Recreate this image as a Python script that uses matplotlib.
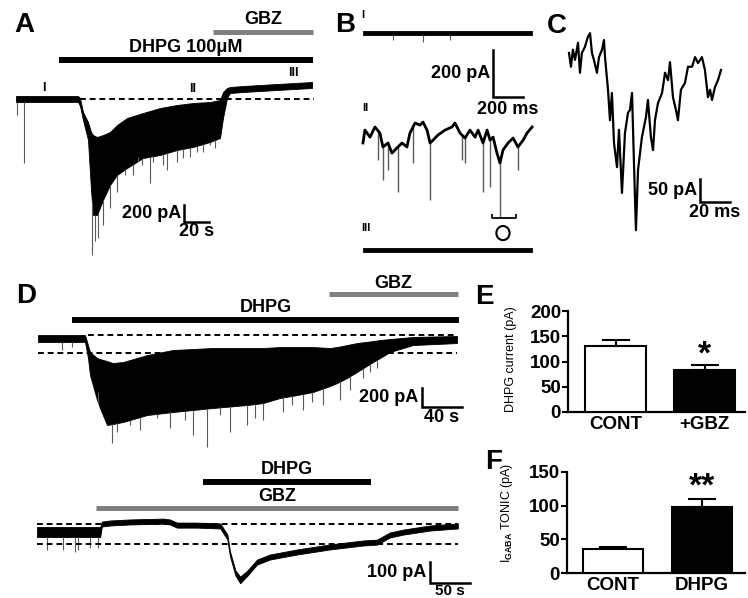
import numpy as np
import matplotlib
matplotlib.use('Agg')
import matplotlib.pyplot as plt
from matplotlib.patches import Ellipse

plt.rcParams['font.family'] = ['Liberation Sans', 'DejaVu Sans']
plt.rcParams['font.weight'] = 'bold'
plt.rcParams['mathtext.fontset'] = 'custom'
plt.rcParams['mathtext.rm'] = 'Liberation Sans:bold'
plt.rcParams['mathtext.bf'] = 'Liberation Sans:bold'

# ---- panel A: DHPG 100uM then GBZ (time s, current pA) ----
a_t = [0, 49.6, 51.2, 53.6, 57.6, 60, 61.6, 64.8, 69.6, 75.2, 80.8, 88.8, 101.6, 115.2,
       128.8, 141.6, 155.2, 163.2, 165.6, 168.8, 171.2, 181.6, 208.8, 236.8]
a_top = [36, 36, 12, -156, -276, -396, -432, -456, -432, -396, -312, -228, -168, -108,
         -72, -48, -36, -12, 84, 132, 144, 156, 180, 204]
a_bot = [-36, -36, -84, -252, -492, -1092, -1392, -1392, -1212, -1032, -912, -828, -708, -672,
         -612, -576, -516, -468, -228, 12, 72, 84, 108, 132]
a_spk_t = [0.8, 6.4, 60.8, 63, 65.6, 69.6, 75.2, 80.8, 84.8, 87.2, 93.6, 97.6, 100.8, 107.2,
           109.6, 117.6, 120.8, 128.8, 133.6, 139.2, 144.8, 149.6, 155.2, 159.2]
a_spk_i = [-192, -768, -1872, -1700, -1668, -1512, -1308, -1116, -876, -912, -912, -696, -792, -1008,
           -756, -792, -852, -756, -708, -696, -636, -636, -552, -588]

# ---- panel B: expanded sweeps I, II, III (ms, pA) ----
b1_t = [0, 1127]
b1_top = [10, 10]
b1_bot = [-9, -9]
b1_spk_t = [200, 400, 580]
b1_spk_i = [-30, -38, -30]
b2_t = [0, 13, 47, 80, 113, 133, 167, 193, 233, 260, 293, 313, 347, 380, 400, 427, 447, 467, 500, 547,
        593, 613, 647, 680, 713, 747, 767, 800, 827, 847, 867, 893, 913, 933, 967, 1000, 1033, 1067,
        1093, 1127]
b2_i = [-55, 0, -30, 13, -13, -72, -55, -98, -72, -55, -72, -13, 30, 21, 34, 0, -55, -43, -21, 0,
        13, 30, -13, -34, 0, -30, 0, -55, 0, -43, -30, -98, -140, -85, -55, -34, -72, -43, -13, 13]
b2_spk_t = [100, 133, 167, 233, 333, 447, 660, 680, 800, 847, 913, 1033]
b2_spk_i = [-128, -213, -170, -264, -140, -298, -128, -140, -264, -243, -370, -170]
b3_t = [0, 1127]
b3_top = [10, 10]
b3_bot = [-9, -9]

# ---- panel C: single event (ms, pA) ----
c_t = [0.7, 2, 3.3, 4.7, 6.7, 8, 9.3, 11.3, 13.3, 14.7, 16, 17.3, 19.3, 20.7, 22.7, 24, 24.7, 26.7,
       28, 29.3, 30.7, 32.7, 34, 36, 38, 40, 41.3, 42.7, 44, 45.3, 46.7, 49.3, 52, 53.3, 55.3, 56.7,
       58, 60, 62.7, 64.7, 66.7, 68, 70, 72, 73.3, 75.3, 78, 80, 82.7, 84.7, 86.7, 89.3, 91.3, 93.3,
       94.7, 96, 98, 100, 102]
c_i = [0, -30, 7, -15, 22, -43, 0, 13, 35, 43, 0, -15, -43, -9, 7, 28, -9, -80,
       -146, -87, -196, -248, -167, -304, -174, -130, -124, -87, -239, -385, -254, -183, -139, -102, -183, -211,
       -146, -109, -87, -43, -59, -20, -96, -124, -146, -80, -65, -30, -30, -9, -22, -9, -37, -96,
       -80, -102, -74, -59, -37]

# ---- panel D top: DHPG then GBZ (s, pA) ----
d1_t = [0, 47, 50, 52, 59, 62, 69, 75, 85, 92, 109, 135, 175, 209, 225, 242, 259, 275, 292, 299,
        309, 319, 335, 342, 352, 375, 419]
d1_top = [31, 31, -74, -147, -210, -221, -242, -263, -252, -231, -179, -126, -105, -105, -105, -95,
          -95, -95, -105, -95, -74, -53, -32, -21, -11, 11, 21]
d1_bot = [-42, -42, -210, -389, -651, -735, -914, -903, -882, -861, -809, -777, -735, -704, -683,
          -630, -599, -567, -504, -473, -420, -357, -252, -210, -147, -74, -53]
d1_spk_t = [24, 34, 60, 74, 79, 92, 102, 119, 132, 147, 155, 169, 182, 192, 209, 217, 225, 245,
            254, 265, 274, 285, 302, 312, 325, 332, 339]
d1_spk_i = [-126, -95, -567, -1103, -987, -914, -966, -840, -945, -861, -1019, -1145, -809, -987,
            -914, -840, -861, -777, -704, -756, -672, -704, -651, -546, -420, -357, -315]

# ---- panel D bottom: GBZ then DHPG (s, pA) ----
d2_t = [0, 79, 81, 91, 116, 158, 166, 175, 200, 229, 238, 241, 248, 254, 263, 275, 291, 325, 366,
        408, 425, 441, 458, 491, 526]
d2_top = [24, 24, 50, 55, 60, 64, 60, 45, 45, 41, -12, -88, -183, -212, -183, -131, -107, -83, -59,
          -40, -36, -2, 12, 31, 41]
d2_bot = [-24, -24, 26, 31, 36, 40, 36, 21, 21, 17, -36, -112, -207, -244, -208, -155, -131, -107,
          -83, -64, -60, -26, -12, 7, 17]
d2_spk_t = [12.5, 32.5, 47.5, 51, 66, 76]
d2_spk_i = [-86, -86, -95, -86, -76, -76]

# ---- panels E, F: summary bars ----
e_cats = ['CONT', '+GBZ']
e_vals = [130, 84]
e_errs = [13, 10]
f_cats = ['CONT', 'DHPG']
f_vals = [35, 98]
f_errs = [4, 12]

W, H = 748, 598
fig = plt.figure(figsize=(W / 100, H / 100), dpi=100)
GRAY = '#808080'
SPK = '#5a5a5a'


def box_ax(x0, y0, x1, y1, xlim=None, ylim=None):
    ax = fig.add_axes([x0 / W, 1 - y1 / H, (x1 - x0) / W, (y1 - y0) / H])
    if xlim is not None:
        ax.set_xlim(xlim)
        ax.set_ylim(ylim)
        ax.axis('off')
    return ax


def drug_bar(ax, t0, t1, y, label, ly, color='k', lw=4.3):
    ax.plot([t0, t1], [y, y], color=color, lw=lw, solid_capstyle='butt', clip_on=False)
    ax.text((t0 + t1) / 2, ly, label, ha='center', va='center', fontsize=13)


def scale_bar(ax, x, y, dx, dy, ylab, xlab, fs=13, xlab_y=None, xlab_va='top', xlab_fs=None):
    ax.plot([x, x, x + dx], [y + dy, y, y], color='k', lw=1.8, clip_on=False,
            solid_joinstyle='miter')
    ax.text(x - dx * 0.1, y + dy / 2, ylab, ha='right', va='center', fontsize=fs)
    if xlab_y is None:
        xlab_y = y - dy * 0.08
    ax.text(x + dx / 2, xlab_y, xlab, ha='center', va=xlab_va, fontsize=xlab_fs or fs)


def spikes(ax, t, peak, env_t, env_bot, off=0, lw=0.8):
    base = np.interp(t, env_t, np.asarray(env_bot) + off)
    ax.vlines(t, base, np.asarray(peak) + off, color=SPK, lw=lw)


# ---- A ----
axA = box_ax(0, 0, 335, 265, (-12.8, 255.2), (-1992, 1188))
spikes(axA, a_spk_t, a_spk_i, a_t, a_bot)
axA.fill_between(a_t, a_bot, a_top, color='k', lw=0.6)
axA.plot([51, 238], [0, 0], 'k', lw=1.4, ls=(0, (3, 2)))
drug_bar(axA, 34.4, 237.6, 468, 'DHPG 100μM', 624)
drug_bar(axA, 157.6, 237.6, 804, 'GBZ', 948, color=GRAY, lw=3.6)
for lab, tx, ty in [('I', 22.4, 132), ('II', 141.6, 120), ('III', 221.6, 312)]:
    axA.text(tx, ty, lab, ha='center', va='center', fontsize=9)
scale_bar(axA, 134.4, -1476, 20, 200, '200 pA', '20 s')

# ---- B ----
axB = box_ax(340, 0, 545, 262, (-153, 1213), (-974, 140))
off2, off3 = -413, -923
axB.fill_between(b1_t, b1_bot, b1_top, color='k', lw=0.6)
spikes(axB, b1_spk_t, b1_spk_i, b1_t, b1_bot)
spikes(axB, b2_spk_t, b2_spk_i, b2_t, b2_i, off=off2, lw=1.0)
axB.plot(b2_t, np.asarray(b2_i) + off2, color='k', lw=2.0)
axB.fill_between(b3_t, np.asarray(b3_bot) + off3, np.asarray(b3_top) + off3, color='k', lw=0.6)
for lab, tx, ty in [('I', 0, 77), ('II', 13, -319), ('III', 20, -830)]:
    axB.text(tx, ty, lab, ha='center', va='center', fontsize=8)
scale_bar(axB, 867, -272, 200, 200, '200 pA', '200 ms')
axB.plot([860, 860, 1020, 1020], [-774, -787, -787, -774], 'k', lw=1.3)
axB.add_patch(Ellipse((933, -851), 88, 60, fill=False, ec='k', lw=1.5))

# ---- C ----
axC = box_ax(545, 0, 748, 250, (-15.3, 120), (-428, 115))
axC.plot(c_t, c_i, color='k', lw=1.6)
scale_bar(axC, 88, -324, 20, 50, '50 pA', '20 ms')

# ---- D top ----
axD1 = box_ax(0, 270, 470, 460, (-38, 432), (-1281, 714))
spikes(axD1, d1_spk_t, d1_spk_i, d1_t, d1_bot)
axD1.fill_between(d1_t, d1_bot, d1_top, color='k', lw=0.6)
axD1.plot([50, 419], [31.5, 31.5], 'k', lw=1.4, ls=(0, (3, 2)))
axD1.plot([0, 419], [-157, -157], 'k', lw=1.4, ls=(0, (3, 2)))
drug_bar(axD1, 34, 421, 189, 'DHPG', 315)
drug_bar(axD1, 291, 420, 462, 'GBZ', 577, color=GRAY, lw=3.6)
scale_bar(axD1, 384, -725, 40, 200, '200 pA', '40 s')

# ---- D bottom ----
axD2 = box_ax(0, 460, 470, 598, (-46.25, 541.25), (-314, 343))
spikes(axD2, d2_spk_t, d2_spk_i, d2_t, d2_bot)
axD2.fill_between(d2_t, d2_bot, d2_top, color='k', lw=0.6)
axD2.plot([0, 526], [38, 38], 'k', lw=1.4, ls=(0, (3, 2)))
axD2.plot([0, 526], [-57, -57], 'k', lw=1.4, ls=(0, (3, 2)))
drug_bar(axD2, 207.5, 417.5, 238, 'DHPG', 300)
drug_bar(axD2, 74, 526, 114, 'GBZ', 167, color=GRAY, lw=3.6)
scale_bar(axD2, 491, -243, 50, 100, '100 pA', '50 s', xlab_y=-313, xlab_va='bottom', xlab_fs=11)


# ---- E, F bars ----
def bar_panel(ax, cats, vals, errs, ymax, step, xl, width, ylabel, ylab_y, star, star_y):
    x = np.arange(len(cats))
    ax.bar(x, vals, width=width, color=['white', 'black'], edgecolor='k', linewidth=1.5, zorder=3)
    ax.errorbar(x, vals, yerr=[[0] * len(errs), errs], fmt='none', ecolor='k',
                elinewidth=1.5, capsize=10, capthick=1.5, zorder=2)
    ax.set_xlim(xl)
    ax.set_ylim(0, ymax)
    ax.set_yticks(np.arange(0, ymax + 1, step))
    ax.set_xticks(x)
    ax.set_xticklabels(cats)
    ax.tick_params(axis='y', direction='out', length=4, width=1.5, labelsize=13.5, pad=1)
    ax.tick_params(axis='x', length=0, labelsize=13.5, pad=3)
    for s in ['top', 'right']:
        ax.spines[s].set_visible(False)
    for s in ['left', 'bottom']:
        ax.spines[s].set_linewidth(1.6)
    ax.set_ylabel(ylabel, fontsize=9)
    ax.yaxis.set_label_coords(-0.29, ylab_y)
    ax.text(1, star_y, star, ha='center', va='center', fontsize=24)


axE = box_ax(568, 311, 745, 412)
bar_panel(axE, e_cats, e_vals, e_errs, 200, 50, (-0.534, 1.455), 0.685,
          'DHPG current (pA)', 0.52, '*', 112)
axF = box_ax(567, 472, 745, 573)
bar_panel(axF, f_cats, f_vals, f_errs, 150, 50, (-0.511, 1.478), 0.667,
          r'I$_{\mathrm{GABA}}$ TONIC (pA)', 0.6, '**', 128)

for lab, px, py in [('A', 24, 25), ('B', 345, 25), ('C', 557, 26), ('D', 26, 296),
                    ('E', 484, 297), ('F', 494, 462)]:
    fig.text(px / W, 1 - py / H, lab, ha='center', va='center', fontsize=20)

fig.savefig('out.png', dpi=100)
